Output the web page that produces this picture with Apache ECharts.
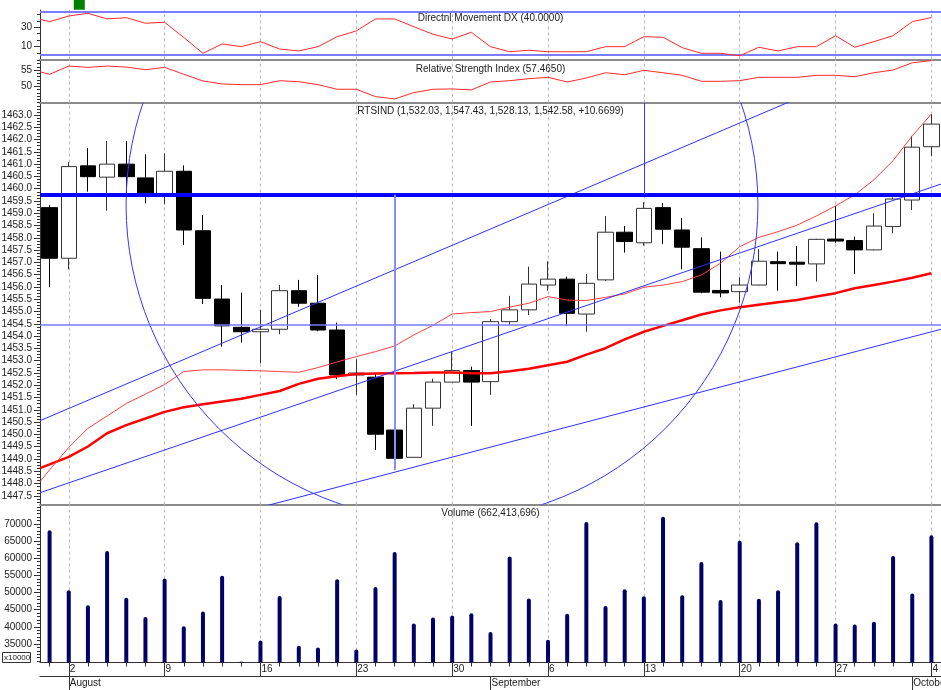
<!DOCTYPE html>
<html>
<head>
<meta charset="utf-8">
<title>RTSIND</title>
<script src="https://cdn.jsdelivr.net/npm/echarts@6/dist/echarts.min.js"></script>
<style>
  html, body { margin: 0; padding: 0; background: #fff; }
  #main { width: 941px; height: 690px; }
</style>
</head>
<body>
<div id="main"></div>
<script>
// trading days
const dates = [
  '2010-07-30',
  '2010-08-02', '2010-08-03', '2010-08-04', '2010-08-05', '2010-08-06',
  '2010-08-09', '2010-08-10', '2010-08-11', '2010-08-12', '2010-08-13',
  '2010-08-16', '2010-08-17', '2010-08-18', '2010-08-19', '2010-08-20',
  '2010-08-23', '2010-08-24', '2010-08-25', '2010-08-26', '2010-08-27',
  '2010-08-30', '2010-08-31', '2010-09-01', '2010-09-02', '2010-09-03',
  '2010-09-06', '2010-09-07', '2010-09-08', '2010-09-09', '2010-09-10',
  '2010-09-13', '2010-09-14', '2010-09-15', '2010-09-16', '2010-09-17',
  '2010-09-20', '2010-09-21', '2010-09-22', '2010-09-23', '2010-09-24',
  '2010-09-27', '2010-09-28', '2010-09-29', '2010-09-30', '2010-10-01',
  '2010-10-04'
]
const monthNames = ['January', 'February', 'March', 'April', 'May', 'June', 'July',
  'August', 'September', 'October', 'November', 'December']

// open, close, low, high
const ohlc = [
  [1459.23, 1457.17, 1455.99, 1459.34],
  [1457.17, 1460.90, 1456.72, 1461.08],
  [1460.93, 1460.49, 1459.88, 1461.65],
  [1460.47, 1461.00, 1459.11, 1461.94],
  [1461.00, 1460.49, 1459.75, 1461.94],
  [1460.44, 1459.79, 1459.41, 1461.40],
  [1459.79, 1460.71, 1459.37, 1461.44],
  [1460.71, 1458.32, 1457.71, 1460.95],
  [1458.29, 1455.54, 1455.31, 1458.93],
  [1455.51, 1454.42, 1453.57, 1456.08],
  [1454.36, 1454.18, 1453.74, 1455.77],
  [1454.18, 1454.28, 1452.90, 1455.07],
  [1454.28, 1455.85, 1454.08, 1456.08],
  [1455.85, 1455.34, 1455.20, 1456.29],
  [1455.34, 1454.25, 1454.20, 1456.49],
  [1454.25, 1452.42, 1452.25, 1454.55],
  [1452.42, 1452.50, 1451.61, 1453.06],
  [1452.33, 1450.01, 1449.37, 1452.46],
  [1450.18, 1449.03, 1448.56, 1450.18],
  [1449.07, 1451.07, 1449.07, 1451.23],
  [1451.07, 1452.13, 1450.35, 1452.27],
  [1452.13, 1452.60, 1452.13, 1453.37],
  [1452.60, 1452.13, 1450.35, 1452.76],
  [1452.15, 1454.59, 1451.61, 1454.69],
  [1454.59, 1455.07, 1454.46, 1455.64],
  [1455.07, 1456.12, 1454.86, 1456.83],
  [1456.08, 1456.32, 1455.85, 1457.05],
  [1456.32, 1454.93, 1454.42, 1456.42],
  [1454.90, 1456.15, 1454.18, 1456.53],
  [1456.29, 1458.23, 1456.25, 1458.89],
  [1458.23, 1457.85, 1457.40, 1458.48],
  [1457.80, 1459.20, 1457.68, 1459.45],
  [1459.23, 1458.35, 1457.75, 1459.41],
  [1458.32, 1457.62, 1456.72, 1458.80],
  [1457.56, 1455.79, 1455.75, 1458.02],
  [1455.86, 1455.76, 1455.58, 1457.44],
  [1455.81, 1456.08, 1455.36, 1456.40],
  [1456.08, 1457.05, 1456.06, 1457.54],
  [1457.03, 1456.95, 1455.85, 1457.44],
  [1457.01, 1456.93, 1456.04, 1457.67],
  [1456.94, 1457.94, 1456.22, 1457.96],
  [1457.95, 1457.87, 1457.80, 1459.30],
  [1457.89, 1457.51, 1456.53, 1458.05],
  [1457.51, 1458.48, 1457.49, 1459.00],
  [1458.46, 1459.58, 1458.19, 1459.65],
  [1459.54, 1461.69, 1459.13, 1462.15],
  [1461.71, 1462.63, 1461.33, 1463.04]
]

// moving averages (value at left edge, then one per day)
const maFastEdge = 1448.08
const maFast = [
  1448.56, 1449.47, 1450.25, 1450.75, 1451.26, 1451.64, 1452.03, 1452.56, 1452.63, 1452.63,
  1452.61, 1452.59, 1452.56, 1452.53, 1452.72, 1452.95, 1453.17, 1453.37, 1453.60, 1454.05,
  1454.44, 1454.90, 1454.96, 1455.00, 1455.18, 1455.34, 1455.61, 1455.47, 1455.45, 1455.58,
  1455.72, 1455.99, 1456.08, 1456.22, 1456.49, 1456.97, 1457.64, 1458.02, 1458.25, 1458.52,
  1458.89, 1459.30, 1459.75, 1460.36, 1461.14, 1462.15, 1463.04
]
const maSlowEdge = 1448.63
const maSlow = [
  1448.78, 1449.09, 1449.51, 1450.05, 1450.38, 1450.65, 1450.92, 1451.11, 1451.23, 1451.34,
  1451.45, 1451.61, 1451.77, 1452.06, 1452.27, 1452.37, 1452.46, 1452.48, 1452.49, 1452.50,
  1452.52, 1452.52, 1452.49, 1452.49, 1452.57, 1452.67, 1452.82, 1452.96, 1453.25, 1453.51,
  1453.87, 1454.18, 1454.42, 1454.65, 1454.88, 1455.05, 1455.18, 1455.28, 1455.38, 1455.47,
  1455.61, 1455.75, 1455.95, 1456.08, 1456.22, 1456.38, 1456.56
]

const volume = [
  68200, 50700, 46300, 62100, 48500, 42900, 54100, 40200, 44500, 54900,
  29800, 36000, 49000, 34500, 34000, 53900, 33400, 51600, 61800, 41000,
  42700, 43300, 44000, 38500, 60500, 48300, 36200, 43800, 70600, 46100,
  51000, 48900, 72100, 49200, 58900, 47800, 65100, 48200, 50700, 64700,
  70500, 41000, 40700, 41500, 60700, 49700, 66700
]

const dxEdge = 38.2
const dx = [
  35.8, 41.6, 44.4, 38.6, 39.9, 34.1, 35.2, 19.5, 3.2, 12.8,
  10.0, 15.2, 7.6, 5.6, 10.0, 20.3, 26.2, 38.6, 38.6, 30.6,
  22.8, 17.9, 24.8, 10.0, 4.8, 6.3, 4.8, 4.8, 4.8, 10.0,
  10.0, 20.3, 19.7, 9.0, 3.2, 3.2, 0.7, 9.4, 5.6, 10.0,
  10.0, 21.3, 9.4, 15.2, 21.3, 35.8, 40.0
]

const rsiEdge = 54.48
const rsi = [
  53.68, 56.22, 55.82, 56.22, 55.92, 55.10, 55.82, 53.70, 51.64, 50.72,
  50.52, 50.52, 51.73, 51.42, 50.52, 49.10, 49.10, 46.84, 46.13, 48.06,
  49.10, 49.20, 48.90, 51.33, 51.73, 52.34, 52.77, 51.33, 52.55, 54.17,
  53.56, 54.90, 54.17, 53.38, 51.54, 51.54, 51.73, 52.77, 52.77, 52.77,
  53.38, 53.38, 52.95, 54.17, 55.00, 57.23, 57.90
]

// drawings on the price panel: [x1, price1, x2, price2] in day index units
const trendLines = [
  [-0.5, 1450.56, 46.5, 1466.16],
  [-0.5, 1447.63, 46.5, 1460.19],
  [-0.5, 1444.69, 46.5, 1454.28]
]
const circle = [20.47, 1459.34, 16.48] // centre x, centre price, radius in days
const resistance = 1459.75
const support = 1454.47
const markerDay = 18, markerLow = 1448.56
const markerDay2 = 31

const titles = [
  'Directnl Movement DX (40.0000)',
  'Relative Strength Index (57.4650)',
  'RTSIND (1,532.03, 1,547.43, 1,528.13, 1,542.58, +10.6699)',
  'Volume (662,413,696)'
]

const FONT = '"Liberation Sans", Arial, sans-serif'
const isMonday = dates.map(d => new Date(d + 'T00:00:00Z').getUTCDay() === 1)
const isMonthStart = dates.map((d, i) => i > 0 && d.slice(5, 7) !== dates[i - 1].slice(5, 7))

function steps(from, to, step) {
  const out = []
  for (let v = from; v <= to + 1e-9; v += step) out.push(+v.toFixed(4))
  return out
}
function withEdge(edge, arr) {
  return [[-0.5, edge]].concat(arr.map((v, i) => [i, v]))
}

const mondayLines = []
isMonday.forEach((m, i) => { if (m) mondayLines.push({ xAxis: i }) })

function dashed(extra) {
  return {
    silent: true, z: 1, symbol: ['none', 'none'], label: { show: false },
    emphasis: { disabled: true }, animation: false,
    lineStyle: { color: '#b8b8b8', type: [3, 3], width: 1 },
    data: mondayLines.concat(extra || [])
  }
}

function yPair(grid, min, max, labels, minor, fmt) {
  return [{
    type: 'value', gridIndex: grid, min: min, max: max, position: 'left',
    splitLine: { show: false },
    axisLine: { show: true, onZero: false, lineStyle: { color: '#333', width: 1 } },
    axisTick: { show: true, customValues: labels, length: 6, lineStyle: { color: '#333' } },
    axisLabel: { customValues: labels, formatter: fmt, color: '#222', fontSize: 10, fontFamily: FONT, margin: 8 }
  }, {
    type: 'value', gridIndex: grid, min: min, max: max, position: 'left',
    splitLine: { show: false },
    axisLine: { show: false, onZero: false },
    axisTick: { show: true, customValues: minor, length: 3, lineStyle: { color: '#333' } },
    axisLabel: { show: false }
  }]
}
function xVal(grid) {
  return {
    type: 'value', gridIndex: grid, min: -0.5, max: 46.5, position: 'bottom',
    axisLine: { show: true, onZero: false, lineStyle: { color: '#8a8a8a', width: 2 } },
    axisTick: { show: false }, axisLabel: { show: false }, splitLine: { show: false }
  }
}

const myChart = echarts.init(document.getElementById('main'), null, { renderer: 'canvas' })

const option = {
  animation: false,
  backgroundColor: '#fff',
  grid: [
    { left: 40, right: 0, top: 10, height: 49.3, outerBoundsMode: 'none' },
    { left: 40, right: 0, top: 59.3, height: 43.4, outerBoundsMode: 'none' },
    { left: 40, right: 0, top: 102.7, height: 401.8, outerBoundsMode: 'none' },
    { left: 40, right: 0, top: 504.5, height: 158, outerBoundsMode: 'none' }
  ],
  xAxis: [
    xVal(0), xVal(1), xVal(2),
    { type: 'category', gridIndex: 2, data: dates, show: false },
    {
      type: 'category', gridIndex: 3, data: dates, position: 'bottom',
      axisLine: { show: true, onZero: false, lineStyle: { color: '#333', width: 1 } },
      axisTick: { show: true, alignWithLabel: true, interval: 0, length: 4, lineStyle: { color: '#333', width: 1 } },
      axisLabel: { show: false }, splitLine: { show: false }
    },
    {
      type: 'category', gridIndex: 3, data: dates, position: 'bottom',
      axisLine: { show: false, onZero: false },
      axisTick: { show: true, alignWithLabel: true, interval: i => isMonday[i], length: 13.5, lineStyle: { color: '#333', width: 1 } },
      axisLabel: {
        show: true, interval: i => isMonday[i], formatter: v => String(+v.slice(8)),
        align: 'left', padding: [0, 0, 0, 1], margin: 2,
        color: '#222', fontSize: 10, fontFamily: FONT
      },
      splitLine: { show: false }
    },
    {
      type: 'category', gridIndex: 3, data: dates, position: 'bottom', offset: 13.5,
      axisLine: { show: true, onZero: false, lineStyle: { color: '#333', width: 1 } },
      axisTick: { show: true, alignWithLabel: true, interval: i => isMonthStart[i], length: 14, lineStyle: { color: '#333', width: 1 } },
      axisLabel: {
        show: true, interval: i => isMonthStart[i], formatter: v => monthNames[+v.slice(5, 7) - 1],
        align: 'left', padding: [0, 0, 0, 1], margin: 2,
        color: '#222', fontSize: 10, fontFamily: FONT
      },
      splitLine: { show: false }
    }
  ],
  yAxis: [].concat(
    yPair(0, -3, 47.8, [10, 30], steps(10 - 20 / 3, 47, 20 / 3), v => String(v)),
    yPair(1, 44.97, 58.3, [50, 55], steps(45, 58, 1), v => String(v)),
    yPair(2, 1447.15, 1463.5, steps(1447.5, 1463, 0.5), steps(1447.25, 1463.5, 0.125), v => v.toFixed(1)),
    yPair(3, 29600, 75690, steps(35000, 70000, 5000), steps(30000, 75000, 1000), v => String(v))
  ),
  graphic: titles.map((t, i) => ({
    type: 'text', silent: true, z: 10,
    x: 490.5, y: [18.3, 69, 111, 513.3][i],
    style: { text: t, align: 'center', verticalAlign: 'middle', font: '10px ' + FONT, fill: '#222' }
  })).concat([{
    type: 'group', left: 2, top: 652, silent: true,
    children: [
      { type: 'rect', shape: { x: 0, y: 0, width: 28, height: 10 }, style: { fill: '#fff', stroke: '#333', lineWidth: 1 } },
      { type: 'text', x: 1.5, y: 1.5, style: { text: 'x10000', font: '8px ' + FONT, fill: '#222' } }
    ]
  }]),
  series: [
    {
      type: 'line', name: 'DX', xAxisIndex: 0, yAxisIndex: 0, data: withEdge(dxEdge, dx),
      symbol: 'none', z: 3, silent: true, lineStyle: { color: '#ff2a2a', width: 1 },
      markLine: dashed([
        { yAxis: 46.1, lineStyle: { color: '#7c7cff', width: 2, type: 'solid' } },
        { yAxis: 1.4, lineStyle: { color: '#7c7cff', width: 2, type: 'solid' } }
      ]),
      markPoint: {
        silent: true, symbol: 'rect', symbolSize: [11, 10], symbolOffset: [0, -7],
        itemStyle: { color: '#008000' }, label: { show: false },
        data: [{ coord: [1.55, 46] }]
      }
    },
    {
      type: 'line', name: 'RSI', xAxisIndex: 1, yAxisIndex: 2, data: withEdge(rsiEdge, rsi),
      symbol: 'none', z: 3, silent: true, lineStyle: { color: '#ff2a2a', width: 1 },
      markLine: dashed()
    },
    {
      type: 'line', xAxisIndex: 2, yAxisIndex: 4, data: [], silent: true, z: 1,
      markLine: dashed()
    },
    {
      type: 'candlestick', name: 'RTSIND', xAxisIndex: 3, yAxisIndex: 4, data: ohlc,
      barWidth: 16, z: 2, silent: true,
      itemStyle: { color: '#fff', color0: '#000', borderColor: '#333', borderColor0: '#000', borderWidth: 1 }
    },
    {
      type: 'line', xAxisIndex: 2, yAxisIndex: 4, data: withEdge(maSlowEdge, maSlow),
      symbol: 'none', z: 3, silent: true, lineStyle: { color: '#ff0000', width: 2.5 }
    },
    {
      type: 'line', xAxisIndex: 2, yAxisIndex: 4, data: withEdge(maFastEdge, maFast),
      symbol: 'none', z: 3, silent: true, lineStyle: { color: '#ff4040', width: 1 }
    }
  ].concat(trendLines.map(t => ({
    type: 'line', xAxisIndex: 2, yAxisIndex: 4, data: [[t[0], t[1]], [t[2], t[3]]],
    symbol: 'none', z: 4, silent: true, clip: true, lineStyle: { color: '#3030ff', width: 1 }
  }))).concat([
    {
      type: 'custom', xAxisIndex: 2, yAxisIndex: 4, data: [circle], clip: true, z: 4, silent: true,
      encode: { x: 0, y: 1 },
      renderItem: function (params, api) {
        const c = api.coord([api.value(0), api.value(1)])
        const e = api.coord([api.value(0) + api.value(2), api.value(1)])
        return {
          type: 'circle',
          shape: { cx: c[0], cy: c[1], r: e[0] - c[0] },
          style: { fill: 'none', stroke: '#3535ff', lineWidth: 1 }
        }
      }
    },
    {
      type: 'line', xAxisIndex: 2, yAxisIndex: 4, data: [], silent: true, z: 5,
      markLine: {
        silent: true, symbol: ['none', 'none'], label: { show: false }, emphasis: { disabled: true },
        data: [
          { yAxis: resistance, lineStyle: { color: '#0000ff', width: 4, type: 'solid' } },
          { yAxis: support, lineStyle: { color: '#7878ff', width: 1.5, type: 'solid' } },
          [{ coord: [markerDay, resistance], lineStyle: { color: '#8c8cff', width: 2, type: 'solid' } }, { coord: [markerDay, markerLow] }],
          [{ coord: [markerDay2, 1463.5], lineStyle: { color: '#3a3aff', width: 1, type: 'solid' } }, { coord: [markerDay2, resistance] }]
        ]
      }
    },
    {
      type: 'line', xAxisIndex: 4, yAxisIndex: 6, data: [], silent: true, z: 1,
      markLine: dashed()
    },
    {
      type: 'bar', name: 'Volume', xAxisIndex: 4, yAxisIndex: 6, data: volume,
      barWidth: 4, z: 2, silent: true,
      itemStyle: { color: '#000066', borderRadius: [2, 2, 0, 0] }
    }
  ])
}

myChart.setOption(option)
</script>
</body>
</html>
